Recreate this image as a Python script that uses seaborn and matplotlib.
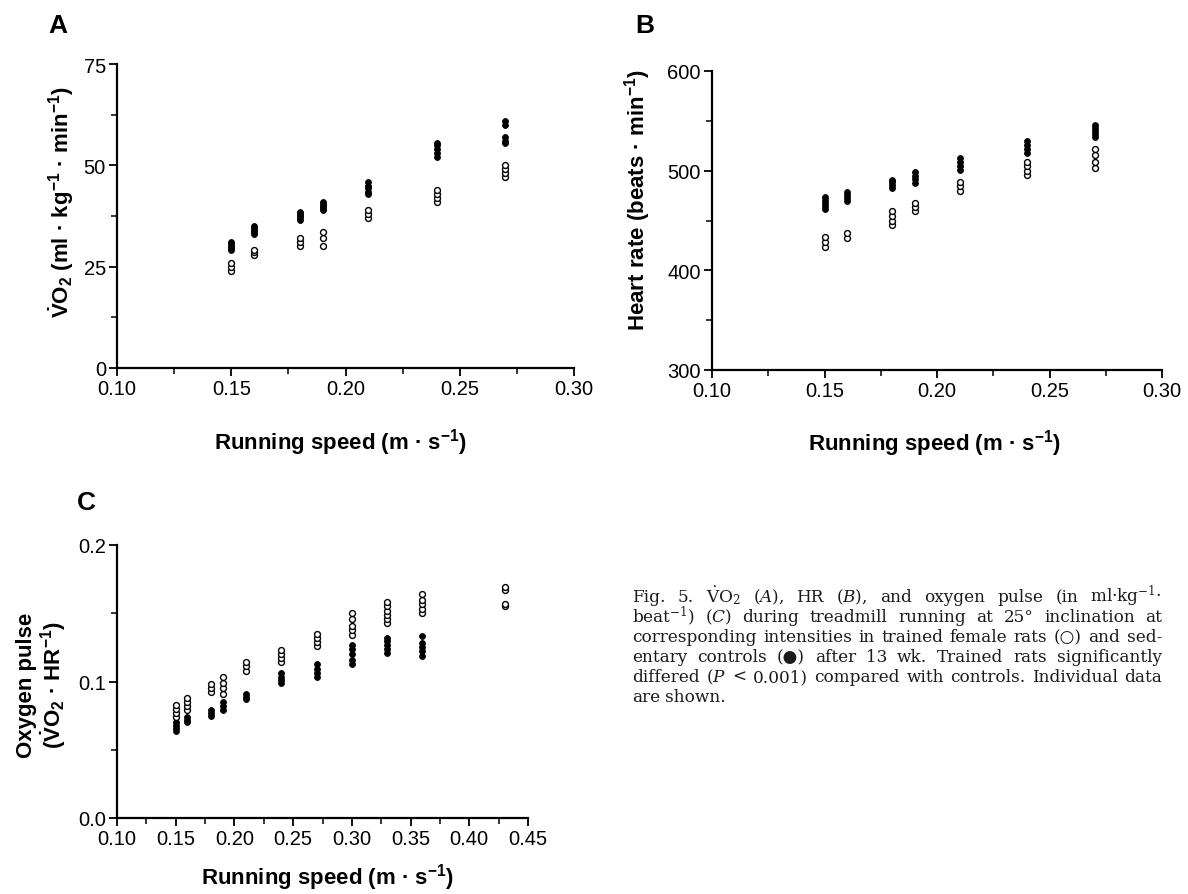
import numpy as np
import pandas as pd
import seaborn as sns
import matplotlib.pyplot as plt
from matplotlib.ticker import MultipleLocator, FormatStrFormatter

# -----------------------------------------
# Data, trained = open, control = filled
# -----------------------------------------
A_SPEED = [0.15, 0.16, 0.18, 0.19, 0.21, 0.24, 0.27]
A_TRAINED = [[24, 25, 26], [28, 28.5, 29], [30, 31, 32], [30, 32, 33.5],
             [37, 38, 39], [41, 42, 43, 44], [47, 48, 49, 50]]
A_CONTROL = [[29, 29.5, 30, 30.5, 31], [33, 33.5, 34, 34.5, 35],
             [36.5, 37, 37.5, 38, 38.5], [39, 39.5, 40, 40.5, 41],
             [43, 43.5, 44.5, 45, 46], [52, 53, 54, 55, 55.5],
             [55.5, 56, 57, 60, 61]]

B_SPEED = [0.15, 0.16, 0.18, 0.19, 0.21, 0.24, 0.27]
B_TRAINED = [[423, 428, 433], [432, 437], [445, 450, 455, 460],
             [460, 464, 468], [480, 485, 489], [496, 500, 505, 509],
             [503, 509, 516, 522]]
B_CONTROL = [[462, 465, 468, 471, 474], [470, 473, 476, 479],
             [483, 486, 489, 491], [488, 492, 495, 499],
             [501, 505, 509, 513], [518, 522, 526, 530],
             [534, 537, 540, 543, 546]]

C_SPEED = [0.15, 0.16, 0.18, 0.19, 0.21, 0.24, 0.27, 0.30, 0.33, 0.36, 0.43]
C_TRAINED = [[0.074, 0.077, 0.080, 0.083], [0.079, 0.082, 0.085, 0.088],
             [0.092, 0.095, 0.098], [0.091, 0.095, 0.099, 0.103],
             [0.108, 0.111, 0.114], [0.114, 0.117, 0.120, 0.123],
             [0.126, 0.129, 0.132, 0.135], [0.134, 0.138, 0.141, 0.146, 0.150],
             [0.143, 0.146, 0.149, 0.152, 0.155, 0.158],
             [0.150, 0.153, 0.157, 0.160, 0.164], [0.155, 0.157, 0.167, 0.169]]
C_CONTROL = [[0.064, 0.066, 0.068, 0.070], [0.070, 0.072, 0.074],
             [0.075, 0.077, 0.079], [0.079, 0.082, 0.085],
             [0.087, 0.089, 0.091], [0.099, 0.101, 0.103, 0.106],
             [0.103, 0.106, 0.109, 0.113], [0.113, 0.116, 0.120, 0.124, 0.127],
             [0.121, 0.124, 0.127, 0.130, 0.132],
             [0.119, 0.122, 0.125, 0.128, 0.133], []]

CAPTION = [
    ["Fig.", "5.", r"$\dot{\mathrm{V}}\mathrm{O}_2$", r"($\mathit{A}$),", "HR",
     r"($\mathit{B}$),", "and", "oxygen", "pulse", "(in", r"ml·kg$^{-1}$·"],
    [r"beat$^{-1}$)", r"($\mathit{C}$)", "during", "treadmill", "running", "at",
     "25°", "inclination", "at"],
    ["corresponding", "intensities", "in", "trained", "female", "rats", "(○)",
     "and", "sed-"],
    ["entary", "controls", "(●)", "after", "13", "wk.", "Trained", "rats",
     "significantly"],
    ["differed", r"($\mathit{P}$", "<", "0.001)", "compared", "with", "controls.",
     "Individual", "data"],
    ["are", "shown."],
]

W, H = 1188, 895

sns.set_theme(style="ticks")
plt.rcParams["font.family"] = ["Liberation Sans", "DejaVu Sans"]
plt.rcParams["mathtext.fontset"] = "custom"
plt.rcParams["mathtext.rm"] = "Liberation Sans:bold"
plt.rcParams["mathtext.it"] = "Liberation Sans:bold:italic"
plt.rcParams["mathtext.bf"] = "Liberation Sans:bold"
plt.rcParams["mathtext.default"] = "rm"

LABEL_FS = 16
TICK_FS = 14.5


def long_form(speeds, trained, control):
    rows = []
    for s, tr, co in zip(speeds, trained, control):
        rows += [(s, v, "trained") for v in tr]
        rows += [(s, v, "control") for v in co]
    return pd.DataFrame(rows, columns=["speed", "value", "group"])


def px_axes(fig, left, right, top, bottom):
    return fig.add_axes([left / W, 1 - bottom / H, (right - left) / W, (bottom - top) / H])


def draw_panel(ax, df, xlim, ylim, xmaj, ymaj, xfmt, yfmt):
    sns.scatterplot(data=df[df["group"] == "control"], x="speed", y="value", ax=ax,
                    color="black", edgecolor="black", s=18, linewidth=0.6, legend=False)
    sns.scatterplot(data=df[df["group"] == "trained"], x="speed", y="value", ax=ax,
                    color="white", edgecolor="black", s=18, linewidth=1.0, legend=False)
    ax.set_xlim(*xlim)
    ax.set_ylim(*ylim)
    ax.xaxis.set_major_locator(MultipleLocator(xmaj))
    ax.xaxis.set_minor_locator(MultipleLocator(xmaj / 2))
    ax.yaxis.set_major_locator(MultipleLocator(ymaj))
    ax.yaxis.set_minor_locator(MultipleLocator(ymaj / 2))
    ax.xaxis.set_major_formatter(FormatStrFormatter(xfmt))
    ax.yaxis.set_major_formatter(FormatStrFormatter(yfmt))
    sns.despine(ax=ax)
    for sp in ["left", "bottom"]:
        ax.spines[sp].set_linewidth(1.6)
        ax.spines[sp].set_color("black")
    ax.tick_params(which="major", length=6, width=1.3, color="black",
                   labelsize=TICK_FS, labelcolor="black", pad=2)
    ax.tick_params(which="minor", length=4, width=1.1, color="black")
    ax.set_xlabel(r"Running speed (m · s$^{-1}$)", fontsize=LABEL_FS, fontweight="bold",
                  color="black")


fig = plt.figure(figsize=(W / 100, H / 100), dpi=100)

# Panel A
axA = px_axes(fig, 117, 574, 65, 369)
draw_panel(axA, long_form(A_SPEED, A_TRAINED, A_CONTROL), (0.10, 0.30), (0, 75),
           0.05, 25, "%.2f", "%d")
axA.set_ylabel(r"$\dot{\mathrm{V}}\mathrm{O}_2$ (ml · kg$^{-1}$ · min$^{-1}$)",
               fontsize=LABEL_FS, fontweight="bold", color="black")
axA.yaxis.set_label_coords(-0.09, 0.55)
axA.xaxis.set_label_coords(0.49, -0.19)

# Panel B
axB = px_axes(fig, 712, 1162, 72, 371)
draw_panel(axB, long_form(B_SPEED, B_TRAINED, B_CONTROL), (0.10, 0.30), (300, 600),
           0.05, 100, "%.2f", "%d")
axB.set_ylabel(r"Heart rate (beats · min$^{-1}$)", fontsize=LABEL_FS, fontweight="bold",
               color="black")
axB.yaxis.set_label_coords(-0.131, 0.57)
axB.xaxis.set_label_coords(0.495, -0.19)

# Panel C
axC = px_axes(fig, 117, 528, 546, 819)
draw_panel(axC, long_form(C_SPEED, C_TRAINED, C_CONTROL), (0.10, 0.45), (0, 0.2),
           0.05, 0.1, "%.2f", "%.1f")
axC.set_ylabel("Oxygen pulse\n" + r"($\dot{\mathrm{V}}\mathrm{O}_2$ · HR$^{-1}$)",
               fontsize=LABEL_FS, fontweight="bold", color="black", linespacing=1.05)
axC.yaxis.set_label_coords(-0.119, 0.49)
axC.xaxis.set_label_coords(0.513, -0.158)

# Panel letters
for letter, x, y in [("A", 48, 26), ("B", 635, 26), ("C", 77, 503)]:
    fig.text(x / W, 1 - y / H, letter, fontsize=19, fontweight="bold",
             va="center", ha="left", color="black")

# Caption, justified word by word
renderer = fig.canvas.get_renderer()
cap_left, cap_right = 632, 1162
for i, words in enumerate(CAPTION):
    base = 602 + 20 * i
    texts = [fig.text(0, 1 - base / H, w, fontsize=12.2, va="baseline", ha="left",
                      family=["DejaVu Serif", "DejaVu Sans"],
                      math_fontfamily="dejavuserif", color="#1a1a1a")
             for w in words]
    widths = [t.get_window_extent(renderer).width for t in texts]
    if i < len(CAPTION) - 1:
        gap = max((cap_right - cap_left - sum(widths)) / (len(words) - 1), 4)
    else:
        gap = 5
    x = cap_left
    for t, w in zip(texts, widths):
        t.set_x(x / W)
        x += w + gap

fig.savefig("out.png", dpi=100)
